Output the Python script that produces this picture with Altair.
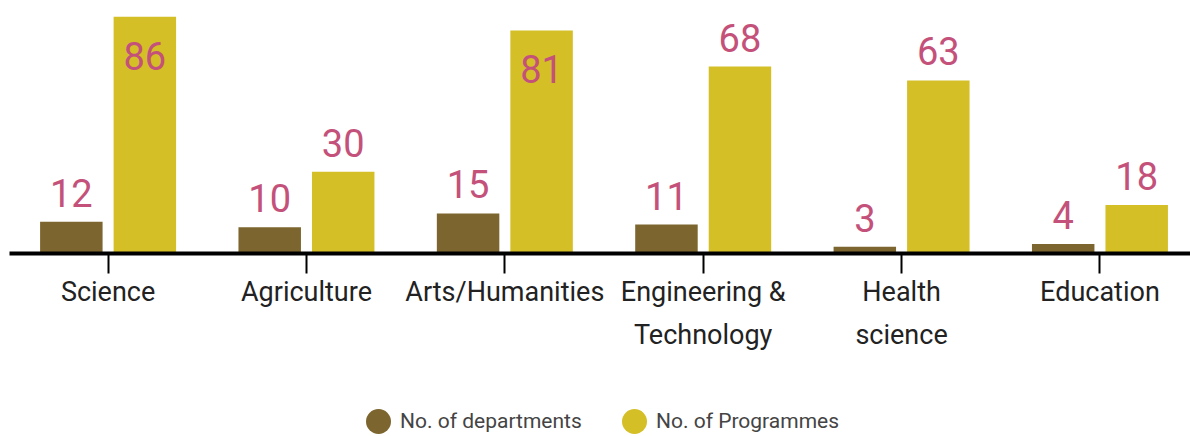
import altair as alt
import pandas as pd

categories = ["Science", "Agriculture", "Arts/Humanities", "Engineering &\nTechnology", "Health\nscience", "Education"]
departments = [12, 10, 15, 11, 3, 4]
programmes = [86, 30, 81, 68, 63, 18]
series = ["No. of departments", "No. of Programmes"]
colors = ["#7C652E", "#D4BF26"]

rows = []
for c, d, p in zip(categories, departments, programmes):
    rows.append({"category": c, "series": series[0], "value": d})
    rows.append({"category": c, "series": series[1], "value": p})
df = pd.DataFrame(rows)

FONT = "Roboto"

x_enc = alt.X(
    "category:N",
    sort=categories,
    scale=alt.Scale(paddingInner=0.3145, paddingOuter=0.134, align=0.585),
    axis=alt.Axis(
        title=None,
        labelAngle=0,
        domain=True,
        domainColor="#000000",
        domainWidth=4,
        offset=-2,
        zindex=1,
        ticks=True,
        tickColor="#000000",
        tickSize=20,
        tickWidth=2,
        grid=False,
        labelFont=FONT,
        labelFontSize=27,
        labelColor="#222222",
        labelPadding=6,
        labelLineHeight=43,
        labelLimit=0,
        labelExpr="split(datum.label, '\\n')",
    ),
)
xo_enc = alt.XOffset("series:N", sort=series, scale=alt.Scale(paddingInner=0.15, paddingOuter=0))
y_enc = alt.Y("value:Q", scale=alt.Scale(domain=[0, 92], nice=False, zero=True), axis=None)

bars = alt.Chart(df).mark_bar().encode(
    x=x_enc,
    xOffset=xo_enc,
    y=y_enc,
    color=alt.Color(
        "series:N",
        sort=series,
        scale=alt.Scale(domain=series, range=colors),
        legend=alt.Legend(
            title=None,
            orient="none",
            legendX=357,
            legendY=409,
            direction="horizontal",
            symbolType="circle",
            symbolSize=625,
            symbolStrokeWidth=0,
            symbolOpacity=1,
            labelFont="Roboto",
            labelFontSize=21,
            labelColor="#444444",
            labelOffset=9,
            labelLimit=0,
            columnPadding=40,
            padding=0,
        ),
    ),
)

above = alt.Chart(df).transform_filter("datum.value < 80").mark_text(
    font=FONT, fontSize=38, color="#C4517A", baseline="alphabetic", dy=-15
).encode(x=alt.X("category:N", sort=categories), xOffset=alt.XOffset("series:N", sort=series), y="value:Q", text="value:Q")

inside = alt.Chart(df).transform_filter("datum.value >= 80").mark_text(
    font=FONT, fontSize=38, color="#C4517A", baseline="alphabetic", dy=53
).encode(x=alt.X("category:N", sort=categories), xOffset=alt.XOffset("series:N", sort=series), y="value:Q", text="value:Q")

chart = alt.layer(bars, above, inside).properties(
    width=1181,
    height=255,
    padding={"left": 9, "top": 0, "right": 0, "bottom": 0},
    background="white",
).configure_view(stroke=None, strokeWidth=0)

chart.save("out.html", embed_options={"renderer": "svg", "actions": False})
